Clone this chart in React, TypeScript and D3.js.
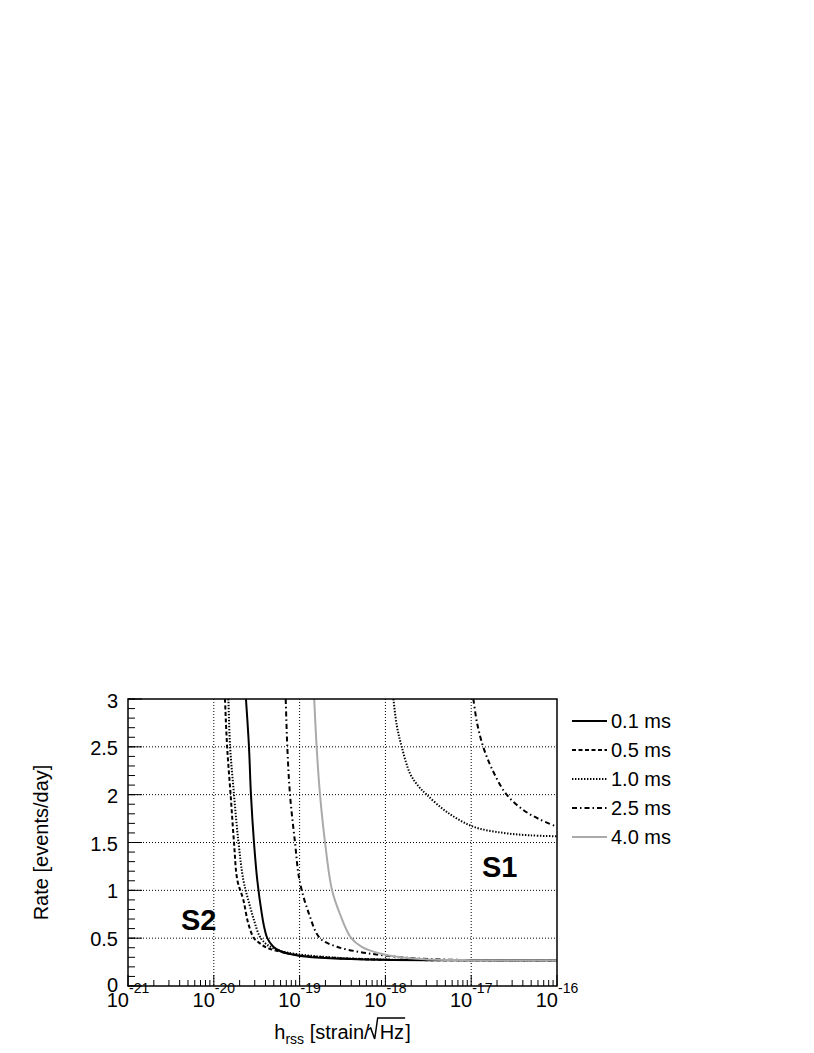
import React, { useLayoutEffect, useRef, useState } from "react";
import * as d3 from "d3";

// ---- data ----
const X_TICKS = [1e-21, 1e-20, 1e-19, 1e-18, 1e-17, 1e-16];
const X_TICK_EXP = ["-21", "-20", "-19", "-18", "-17", "-16"];
const Y_TICKS = [0, 0.5, 1, 1.5, 2, 2.5, 3];
const Y_TICK_LABELS = ["0", "0.5", "1", "1.5", "2", "2.5", "3"];

// S2 curves (h_rss, rate)
const H_S2_01 = [2.37e-20, 2.57e-20, 2.71e-20, 2.94e-20, 3.21e-20, 3.62e-20, 3.9e-20, 4.2e-20, 4.94e-20, 5.91e-20, 7.73e-20, 1.01e-19, 2.26e-19, 8.65e-19, 1e-17, 1e-16];
const R_S2_01 = [3.0, 2.5, 2.0, 1.5, 1.108, 0.76, 0.6, 0.5, 0.41, 0.366, 0.334, 0.314, 0.29, 0.275, 0.27, 0.27];

const H_S2_05 = [1.35e-20, 1.43e-20, 1.57e-20, 1.72e-20, 1.88e-20, 2.21e-20, 2.52e-20, 2.94e-20, 3.45e-20, 4.14e-20, 5.91e-20, 9.25e-20, 2.26e-19, 8.65e-19, 1e-17, 1e-16];
const R_S2_05 = [3.0, 2.5, 2.0, 1.5, 1.108, 0.9, 0.655, 0.5, 0.446, 0.4, 0.36, 0.324, 0.296, 0.275, 0.27, 0.27];

const H_S2_10 = [1.48e-20, 1.55e-20, 1.72e-20, 1.94e-20, 2.21e-20, 2.52e-20, 2.94e-20, 3.45e-20, 4.2e-20, 5.91e-20, 9.25e-20, 2.26e-19, 8.65e-19, 1e-17, 1e-16];
const R_S2_10 = [3.0, 2.5, 2.0, 1.5, 1.108, 0.9, 0.69, 0.515, 0.43, 0.37, 0.334, 0.3, 0.278, 0.27, 0.27];

const H_S2_25 = [6.89e-20, 7.19e-20, 7.73e-20, 8.84e-20, 1.0e-19, 1.28e-19, 1.73e-19, 2.73e-19, 5.06e-19, 8.65e-19, 2.1e-18, 5.66e-18, 2e-17, 1e-16];
const R_S2_25 = [3.0, 2.5, 2.0, 1.5, 1.1, 0.76, 0.5, 0.41, 0.355, 0.325, 0.29, 0.275, 0.27, 0.27];

const H_S2_40 = [1.48e-19, 1.58e-19, 1.73e-19, 1.98e-19, 2.39e-19, 2.96e-19, 4.0e-19, 5.3e-19, 8.65e-19, 1.37e-18, 2.9e-18, 1e-17, 1e-16];
const R_S2_40 = [3.0, 2.5, 2.0, 1.5, 1.0, 0.75, 0.5, 0.41, 0.34, 0.306, 0.28, 0.27, 0.27];

// S1 curves
const H_S1_10 = [1.24e-18, 1.36e-18, 1.55e-18, 1.94e-18, 2.42e-18, 3.03e-18, 5.18e-18, 1.06e-17, 2.37e-17, 4.84e-17, 1e-16];
const R_S1_10 = [3.0, 2.72, 2.5, 2.22, 2.09, 2.0, 1.82, 1.665, 1.6, 1.575, 1.565];

const H_S1_25 = [1.06e-17, 1.17e-17, 1.38e-17, 1.81e-17, 2.59e-17, 4.05e-17, 6.34e-17, 1e-16];
const R_S1_25 = [3.0, 2.75, 2.5, 2.24, 2.0, 1.84, 1.74, 1.665];

const LEGEND_LABELS = ["0.1 ms", "0.5 ms", "1.0 ms", "2.5 ms", "4.0 ms"];

// ---- styles ----
const STYLES = [
  { color: "#000", dash: "none", width: 2 },
  { color: "#000", dash: "4 2.5", width: 2 },
  { color: "#000", dash: "1.4 1.6", width: 2 },
  { color: "#000", dash: "5 3 1.5 3", width: 2 },
  { color: "#aaaaaa", dash: "none", width: 2 },
];

const SERIES = [
  { h: H_S2_01, r: R_S2_01, style: 0 },
  { h: H_S2_05, r: R_S2_05, style: 1 },
  { h: H_S2_10, r: R_S2_10, style: 2 },
  { h: H_S2_25, r: R_S2_25, style: 3 },
  { h: H_S2_40, r: R_S2_40, style: 4 },
  { h: H_S1_10, r: R_S1_10, style: 2 },
  { h: H_S1_25, r: R_S1_25, style: 3 },
];

const W = 814;
const H = 1053;
const M = { left: 128, right: 557, top: 699, bottom: 986 };
const FONT = "'Liberation Sans', Arial, Helvetica, sans-serif";
const TITLE_BASE = 1039;

export default function App() {
  const x = d3.scaleLog().domain([1e-21, 1e-16]).range([M.left, M.right]);
  const y = d3.scaleLinear().domain([0, 3]).range([M.bottom, M.top]);

  const line = d3
    .line<[number, number]>()
    .x((d) => x(d[0]))
    .y((d) => y(d[1]))
    .curve(d3.curveCatmullRom.alpha(0.5));

  const xMinor: number[] = [];
  for (let e = -21; e < -16; e++) {
    for (let k = 2; k <= 9; k++) xMinor.push(k * Math.pow(10, e));
  }
  const yMinor: number[] = d3.range(0, 3.0001, 0.1).map((v) => Math.round(v * 10) / 10);

  const hzRef = useRef<SVGTSpanElement>(null);
  const [hz, setHz] = useState<{ x1: number; x2: number } | null>(null);

  useLayoutEffect(() => {
    const t = hzRef.current;
    if (t) {
      try {
        const s = t.getStartPositionOfChar(0).x;
        const e = t.getEndPositionOfChar(1).x;
        setHz({ x1: s, x2: e });
      } catch (err) {
        // ignore
      }
    }
  }, []);

  const legendY = [721, 750, 779, 808, 837];

  return (
    <svg
      width={W}
      height={H}
      style={{ position: "absolute", left: 0, top: 0, background: "#fff" }}
      fontFamily={FONT}
    >
      <rect x={0} y={0} width={W} height={H} fill="#fff" />
      <defs>
        <clipPath id="plotclip">
          <rect x={M.left} y={M.top} width={M.right - M.left} height={M.bottom - M.top} />
        </clipPath>
      </defs>

      {/* grid */}
      <g stroke="#000" strokeWidth={1} strokeDasharray="1 2">
        {X_TICKS.slice(1, -1).map((t, i) => (
          <line key={"gx" + i} x1={x(t)} x2={x(t)} y1={M.top} y2={M.bottom} />
        ))}
        {Y_TICKS.slice(1, -1).map((t, i) => (
          <line key={"gy" + i} x1={M.left} x2={M.right} y1={y(t)} y2={y(t)} />
        ))}
      </g>

      {/* curves */}
      <g clipPath="url(#plotclip)" fill="none">
        {SERIES.map((s, i) => {
          const st = STYLES[s.style];
          const pts = s.h.map((hv, j) => [hv, s.r[j]] as [number, number]);
          return (
            <path
              key={"c" + i}
              d={line(pts) || ""}
              stroke={st.color}
              strokeWidth={st.width}
              strokeDasharray={st.dash}
            />
          );
        })}
      </g>

      {/* ticks */}
      <g stroke="#000" strokeWidth={1}>
        {xMinor.map((t, i) => (
          <line key={"xm" + i} x1={x(t)} x2={x(t)} y1={M.bottom} y2={M.bottom - 6} />
        ))}
        {X_TICKS.map((t, i) => (
          <line key={"xM" + i} x1={x(t)} x2={x(t)} y1={M.bottom} y2={M.bottom - 11} />
        ))}
        {yMinor.map((t, i) => (
          <line key={"ym" + i} x1={M.left} x2={M.left + 7} y1={y(t)} y2={y(t)} />
        ))}
        {Y_TICKS.map((t, i) => (
          <line key={"yM" + i} x1={M.left} x2={M.left + 14} y1={y(t)} y2={y(t)} />
        ))}
      </g>

      {/* frame */}
      <rect
        x={M.left}
        y={M.top}
        width={M.right - M.left}
        height={M.bottom - M.top}
        fill="none"
        stroke="#000"
        strokeWidth={1.5}
      />

      {/* y tick labels */}
      {Y_TICKS.map((t, i) => (
        <text
          key={"yl" + i}
          x={118}
          y={y(t) + (i === Y_TICKS.length - 1 ? 9 : i === 0 ? 6 : 8)}
          fontSize={20}
          textAnchor="end"
          fill="#000"
        >
          {Y_TICK_LABELS[i]}
        </text>
      ))}

      {/* x tick labels */}
      {X_TICKS.map((t, i) => (
        <text key={"xl" + i} x={x(t)} y={1007} fontSize={20} textAnchor="middle" fill="#000">
          10
          <tspan fontSize={14} dy={-14}>
            {X_TICK_EXP[i]}
          </tspan>
        </text>
      ))}

      {/* x axis title */}
      <text x={342.5} y={TITLE_BASE} fontSize={20} textAnchor="middle" fill="#000">
        h
        <tspan fontSize={14} dy={5}>
          rss
        </tspan>
        <tspan dy={-5}> [strain/</tspan>
        <tspan ref={hzRef} dx={10}>
          Hz
        </tspan>
        <tspan dx={1}>]</tspan>
      </text>
      {hz && (
        <path
          d={`M${hz.x1 - 12},${TITLE_BASE - 9} L${hz.x1 - 9},${TITLE_BASE - 11} L${hz.x1 - 5},${TITLE_BASE} L${hz.x1 - 2},${TITLE_BASE - 21} L${hz.x2 + 1},${TITLE_BASE - 21}`}
          fill="none"
          stroke="#000"
          strokeWidth={1.5}
          strokeLinejoin="miter"
        />
      )}

      <text
        transform={`translate(48, ${(M.top + M.bottom) / 2}) rotate(-90)`}
        fontSize={20}
        textAnchor="middle"
        fill="#000"
      >
        Rate [events/day]
      </text>

      {/* annotations */}
      <text x={181} y={930} fontSize={29} fontWeight="bold" fill="#000">
        S2
      </text>
      <text x={482} y={877} fontSize={29} fontWeight="bold" fill="#000">
        S1
      </text>

      {/* legend */}
      {LEGEND_LABELS.map((lab, i) => {
        const st = STYLES[i];
        return (
          <g key={"lg" + i}>
            <line
              x1={572}
              x2={607}
              y1={legendY[i]}
              y2={legendY[i]}
              stroke={st.color}
              strokeWidth={st.width}
              strokeDasharray={st.dash}
            />
            <text x={611} y={legendY[i] + 7} fontSize={20} fill="#000">
              {lab}
            </text>
          </g>
        );
      })}
    </svg>
  );
}
